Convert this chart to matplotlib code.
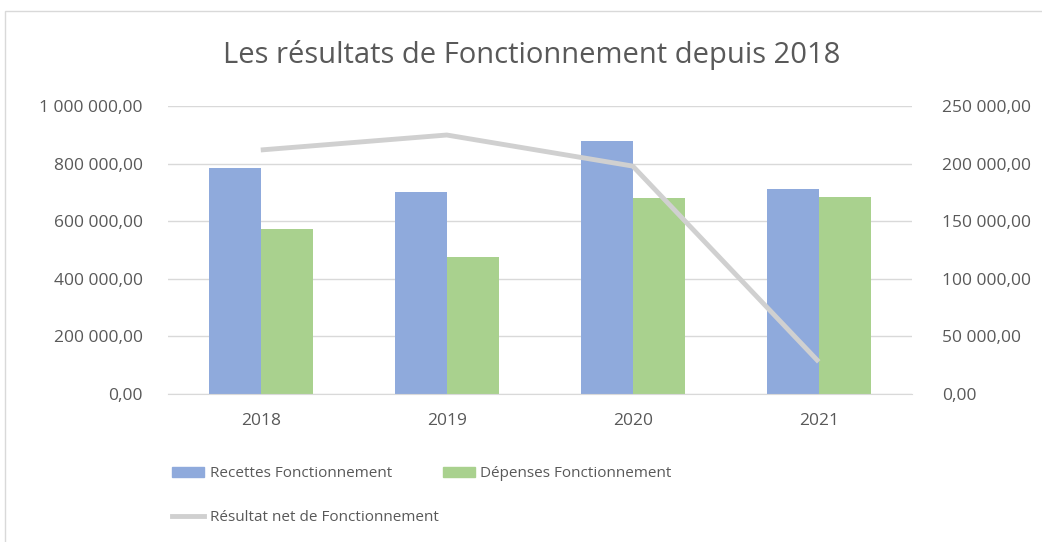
import matplotlib
matplotlib.use("Agg")
import matplotlib.pyplot as plt
import numpy as np
from matplotlib.ticker import FuncFormatter, MultipleLocator
from matplotlib.patches import Rectangle
from matplotlib.lines import Line2D

plt.rcParams["font.family"] = ["Open Sans", "DejaVu Sans"]

# data
years = ["2018", "2019", "2020", "2021"]
recettes = [785000, 701000, 878000, 712000]
depenses = [573000, 476000, 680000, 684000]
resultat = [212000, 225000, 198000, 28000]

BLUE = "#8FAADC"
GREEN = "#A9D18E"
GREY_LINE = "#D0D0D0"
TXT = "#595959"
GRID = "#D9D9D9"


def fr_fmt(v, pos=None):
    s = f"{v:,.2f}"
    return s.replace(",", " ").replace(".", ",")


fig = plt.figure(figsize=(10.42, 5.42), dpi=100)
ax = fig.add_axes([0.161, 0.273, 0.714, 0.531])
ax2 = ax.twinx()

x = np.arange(len(years))
w = 0.28
ax.bar(x - w / 2, recettes, w, color=BLUE, zorder=2)
ax.bar(x + w / 2, depenses, w, color=GREEN, zorder=2)
ax2.plot(x, resultat, color=GREY_LINE, lw=3.5, solid_capstyle="butt", zorder=3)

ax.set_xlim(-0.5, len(years) - 0.5)
ax.set_ylim(0, 1000000)
ax2.set_ylim(0, 250000)
ax.yaxis.set_major_locator(MultipleLocator(200000))
ax2.yaxis.set_major_locator(MultipleLocator(50000))
ax.yaxis.set_major_formatter(FuncFormatter(fr_fmt))
ax2.yaxis.set_major_formatter(FuncFormatter(fr_fmt))
ax.set_xticks(x)
ax.set_xticklabels(years)

ax.grid(axis="y", color=GRID, lw=1, zorder=0)
ax.set_axisbelow(True)
for a in (ax, ax2):
    for s in a.spines.values():
        s.set_visible(False)
    a.tick_params(length=0, labelsize=12.5, labelcolor=TXT)
ax.tick_params(axis="y", pad=18)
ax.tick_params(axis="x", pad=14)
ax2.tick_params(axis="y", pad=22)
ax.spines["bottom"].set_visible(True)
ax.spines["bottom"].set_color(GRID)

fig.text(0.51, 0.898, "Les résultats de Fonctionnement depuis 2018",
         ha="center", va="center", fontsize=21, color=TXT)

handles = [
    Rectangle((0, 0), 1, 1, color=BLUE),
    Line2D([], [], color=GREY_LINE, lw=3.5),
    Rectangle((0, 0), 1, 1, color=GREEN),
]
labels = ["Recettes Fonctionnement", "Résultat net de Fonctionnement",
          "Dépenses Fonctionnement"]
fig.legend(handles, labels, ncol=2, loc="upper left",
           bbox_to_anchor=(0.152, 0.165), frameon=False, fontsize=11,
           labelcolor=TXT, handlelength=2.1, handleheight=0.6,
           columnspacing=0.3, handletextpad=0.35, labelspacing=1.9)

# chart frame
fig.patches.append(Rectangle((0.005, -0.1), 1.1, 1.08, transform=fig.transFigure,
                             fill=False, ec="#D9D9D9", lw=1))

fig.savefig("out.png", dpi=100)
